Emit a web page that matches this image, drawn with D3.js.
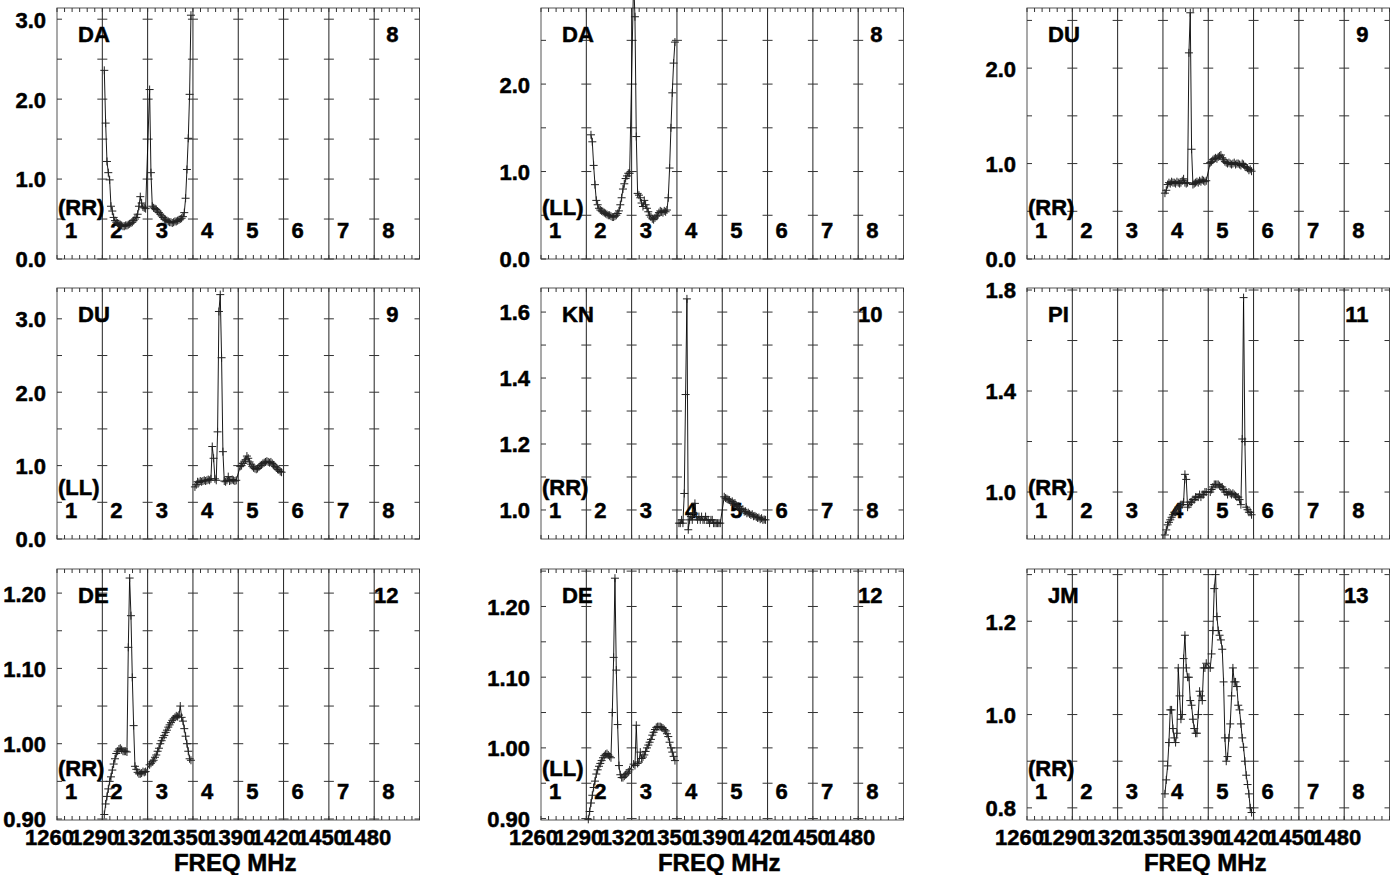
<!DOCTYPE html>
<html><head><meta charset="utf-8">
<script src="https://cdn.jsdelivr.net/npm/d3@7"></script>
<style>
body{margin:0;background:#fff}
svg{display:block}
text{font-family:"Liberation Sans",Arial,Helvetica,sans-serif;font-weight:bold;font-size:22px;fill:#000;stroke:#000;stroke-width:0.5px}
.xtitle{font-size:24px}
</style>
</head><body>
<svg id="chart" width="1399" height="875"></svg>
<script>
// ---------- categories / labels ----------
const freqLabels = ["1260","1290","1320","1350","1390","1420","1450","1480"];
const ifNumbers = ["1","2","3","4","5","6","7","8"];
const antennas = ["DA","DA","DU","DU","KN","PI","DE","DE","JM"];
const antennaNumbers = ["8","8","9","9","10","11","12","12","13"];
const polarizations = ["(RR)","(LL)","(RR)","(LL)","(RR)","(RR)","(RR)","(LL)","(RR)"];
const xAxisTitle = "FREQ MHz";

// ---------- y axis ranges and ticks ----------
const yDomains = [[0,3.14],[0,2.87],[0,2.63],[0,3.42],[0.912,1.673],[0.814,1.808],[0.8987,1.232],[0.898,1.253],[0.774,1.312]];
const yTickSteps = [0.5,0.5,0.5,0.5,0.1,0.2,0.05,0.05,0.1];
const yLabelValues = [
  [0,1,2,3],[0,1,2],[0,1,2],[0,1,2,3],
  [1.0,1.2,1.4,1.6],[1.0,1.4,1.8],
  [0.9,1.0,1.1,1.2],[0.9,1.0,1.1,1.2],[0.8,1.0,1.2]
];
const yLabelDecimals = [1,1,1,1,1,1,2,2,1];

// ---------- series (amplitude per channel, channels 2..33 of each IF) ----------
const daRR_IF2 = [2.36,1.70,1.22,1.08,0.99,0.66,0.60,0.52,0.48,0.46,0.45,0.44,0.43,0.42,0.41,0.41,0.42,0.42,0.43,0.44,0.45,0.46,0.48,0.50,0.52,0.56,0.66,0.78,0.70,0.65,0.64,0.63];
const daRR_IF3 = [2.12,1.08,0.66,0.64,0.63,0.62,0.60,0.58,0.56,0.54,0.52,0.50,0.49,0.48,0.47,0.46,0.46,0.45,0.46,0.47,0.47,0.48,0.49,0.50,0.51,0.53,0.58,0.76,1.12,1.51,2.06,3.05];
const daLL_IF2 = [null,null,1.42,1.34,1.07,0.85,0.67,0.62,0.58,0.56,0.55,0.54,0.53,0.52,0.51,0.50,0.50,0.49,0.48,0.48,0.49,0.50,0.52,0.55,0.62,0.70,0.80,0.86,0.92,0.95,0.98,0.98];
const daLL_IF3 = [3.20,2.77,1.40,0.75,0.73,0.70,0.64,0.60,0.67,0.62,0.58,0.54,0.50,0.48,0.46,0.45,0.47,0.49,0.50,0.53,0.55,0.54,0.53,0.55,0.54,0.56,0.70,1.04,1.50,1.90,2.24,2.48];
const duRR_IF4 = [0.69,0.72,0.78,0.80,0.79,0.81,0.80,0.80,0.79,0.81,0.80,0.79,0.80,0.82,0.84,0.80,0.79,0.80,2.16,2.58,1.15,0.78,0.79,0.80,0.81,0.80,0.82,0.81,0.83,0.82,0.81,0.82];
const duRR_IF5 = [1.01,1.02,1.04,1.05,1.06,1.05,1.07,1.08,1.09,1.06,1.04,1.02,1.01,1.00,1.01,1.00,0.99,1.00,1.01,0.99,1.00,1.00,0.99,0.98,1.00,0.99,0.97,0.96,0.95,0.93,0.94,0.92];
const duLL_IF4 = [0.71,0.74,0.78,0.77,0.79,0.78,0.79,0.80,0.79,0.80,0.81,0.80,0.82,1.26,1.10,0.82,0.80,1.46,3.10,3.33,2.47,1.19,0.79,0.78,0.80,0.85,0.79,0.80,0.81,0.80,0.79,0.80];
const duLL_IF5 = [0.99,1.00,1.03,1.06,1.08,1.13,1.10,1.05,1.02,0.99,0.97,0.96,0.95,0.96,0.98,1.00,1.01,1.03,1.04,1.05,1.06,1.05,1.04,1.05,1.03,1.01,0.99,0.97,0.95,0.94,0.92,0.91];
const knRR_IF4 = [0.96,0.96,0.97,0.96,1.05,1.35,1.64,0.94,0.97,0.98,0.97,0.99,1.02,0.98,0.97,0.98,0.97,0.98,0.97,0.97,0.98,0.97,0.97,0.96,0.97,0.97,0.96,0.96,0.96,0.96,0.96,0.96];
const knRR_IF5 = [1.040,1.036,1.034,1.031,1.030,1.024,1.026,1.019,1.021,1.014,1.010,1.011,1.004,1.000,1.002,0.995,0.996,0.990,0.992,0.988,0.985,0.987,0.981,0.982,0.979,0.976,0.977,0.972,0.975,0.970,0.971,0.970];
const piRR_IF4 = [0.83,0.85,0.87,0.88,0.89,0.90,0.91,0.92,0.92,0.93,0.94,0.94,0.95,0.95,0.96,1.07,1.05,0.94,0.95,0.96,0.96,0.97,0.97,0.98,0.98,0.98,0.99,0.98,0.99,0.99,1.00,1.00];
const piRR_IF5 = [1.00,1.01,1.02,1.03,1.03,1.03,1.03,1.025,1.02,1.02,1.01,1.00,1.00,0.99,1.00,0.995,0.99,0.995,0.99,0.985,0.98,0.98,0.97,0.95,1.21,1.77,1.20,0.94,0.93,0.92,0.92,0.91];
const deRR_IF2 = [0.906,0.920,0.930,0.940,0.950,0.956,0.965,0.973,0.980,0.987,0.990,0.993,0.994,0.992,0.990,0.990,0.990,0.989,1.128,1.220,1.170,1.088,1.024,0.970,0.966,0.962,0.960,0.960,0.961,0.963,0.962,0.963];
const deRR_IF3 = [0.972,0.974,0.976,0.978,0.982,0.985,0.990,0.994,1.000,1.004,1.008,1.011,1.015,1.018,1.022,1.025,1.028,1.031,1.033,1.035,1.037,1.036,1.038,1.050,1.035,1.030,1.020,1.010,1.000,0.990,0.980,0.978];
const deLL_IF2 = [0.899,0.910,0.922,0.933,0.944,0.953,0.963,0.969,0.974,0.978,0.982,0.986,0.989,0.991,0.992,0.990,0.988,0.986,1.050,1.128,1.240,1.110,1.033,0.975,0.962,0.958,0.958,0.960,0.962,0.964,0.966,0.969];
const deLL_IF3 = [0.977,0.975,1.032,0.978,0.980,0.994,0.985,0.987,0.990,0.995,1.000,1.004,1.008,1.012,1.018,1.022,1.026,1.029,1.030,1.030,1.030,1.029,1.028,1.026,1.024,1.020,1.016,1.008,1.000,0.994,0.988,0.982];
const jmRR_IF4 = [0.83,0.86,0.89,0.94,1.01,1.01,0.97,0.95,0.94,0.96,1.10,1.04,0.99,1.00,1.12,1.17,1.10,1.08,1.08,1.03,1.02,0.99,0.97,0.96,0.96,1.00,1.05,1.04,1.03,1.10,1.10,1.11];
const jmRR_IF5 = [1.10,1.13,1.18,1.27,1.30,1.21,1.18,1.17,1.16,1.14,1.07,0.95,0.90,0.91,0.95,0.98,1.04,1.10,1.07,1.07,1.06,1.02,1.01,0.98,0.95,0.93,0.90,0.87,0.85,0.83,0.80,0.79];

// which IF (1-based) each series belongs to
const panelSeries = [
  [[2,daRR_IF2],[3,daRR_IF3]],
  [[2,daLL_IF2],[3,daLL_IF3]],
  [[4,duRR_IF4],[5,duRR_IF5]],
  [[4,duLL_IF4],[5,duLL_IF5]],
  [[4,knRR_IF4],[5,knRR_IF5]],
  [[4,piRR_IF4],[5,piRR_IF5]],
  [[2,deRR_IF2],[3,deRR_IF3]],
  [[2,deLL_IF2],[3,deLL_IF3]],
  [[4,jmRR_IF4],[5,jmRR_IF5]]
];

// ---------- layout ----------
const CH = 34;            // channels per IF (first/last flagged)
const NIF = 8;
const colLeft = [57, 541, 1027];
const rowTop = [8, 288, 569];
const PW = 362.5, PH = 251;

const svg = d3.select("#chart");

panelSeries.forEach((series, p) => {
  const r = Math.floor(p / 3), c = p % 3;
  const L = colLeft[c], T = rowTop[r], R = L + PW, B = T + PH;
  const x = d3.scaleLinear().domain([0, NIF * CH]).range([L, R]);
  const y = d3.scaleLinear().domain(yDomains[p]).range([B, T]);
  const g = svg.append("g");

  // frame
  g.append("rect").attr("x", L).attr("y", T).attr("width", PW).attr("height", PH)
    .attr("fill", "none").attr("stroke", "#555").attr("stroke-width", 1);

  // IF separators
  const bounds = d3.range(1, NIF).map(k => k * CH);
  g.selectAll(".sep").data(bounds).join("line")
    .attr("x1", d => x(d)).attr("x2", d => x(d)).attr("y1", T).attr("y2", B)
    .attr("stroke", "#222").attr("stroke-width", 1);

  // top / bottom minor ticks (6 per IF)
  const xt = d3.range(0, NIF * 6 + 1).map(k => k * CH / 6);
  g.selectAll(".tb").data(xt).join("line")
    .attr("x1", d => x(d)).attr("x2", d => x(d)).attr("y1", B).attr("y2", B - 4)
    .attr("stroke", "#333").attr("stroke-width", 1);
  g.selectAll(".tt").data(xt).join("line")
    .attr("x1", d => x(d)).attr("x2", d => x(d)).attr("y1", T).attr("y2", T + 4)
    .attr("stroke", "#333").attr("stroke-width", 1);

  // y ticks: across each separator and inward at frame edges
  const [y0, y1] = yDomains[p];
  const step = yTickSteps[p];
  const yt = d3.range(Math.ceil(y0 / step - 1e-6), Math.floor(y1 / step + 1e-6) + 1).map(k => +(k * step).toFixed(4));
  yt.forEach(v => {
    const yy = y(v);
    g.append("line").attr("x1", L).attr("x2", L + 5).attr("y1", yy).attr("y2", yy).attr("stroke", "#333");
    g.append("line").attr("x1", R - 5).attr("x2", R).attr("y1", yy).attr("y2", yy).attr("stroke", "#333");
    bounds.forEach(b => {
      g.append("line").attr("x1", x(b) - 5).attr("x2", x(b) + 5).attr("y1", yy).attr("y2", yy).attr("stroke", "#333");
    });
  });

  // y labels
  const ya = d3.axisLeft(y).tickValues(yLabelValues[p])
    .tickFormat(d3.format("." + yLabelDecimals[p] + "f")).tickSize(0).tickPadding(11);
  const yg = g.append("g").attr("transform", `translate(${L},0)`).call(ya);
  yg.select(".domain").remove();
  yg.selectAll("text").attr("dy", "0.36em");

  // x labels (bottom row only)
  if (r === 2) {
    const xa = d3.axisBottom(x).tickValues(d3.range(0, NIF).map(k => k * CH))
      .tickFormat((d, i) => freqLabels[i]).tickSize(0).tickPadding(9);
    const xg = g.append("g").attr("transform", `translate(0,${B})`).call(xa);
    xg.select(".domain").remove();
    xg.selectAll("text").attr("x", -8);
    g.append("text").attr("class", "xtitle").attr("x", (L + R) / 2 - 3).attr("y", 871)
      .attr("text-anchor", "middle").text(xAxisTitle);
  }

  // in-panel labels
  g.append("text").attr("x", L + 21).attr("y", T + 34).text(antennas[p]);
  g.append("text").attr("x", R - 21).attr("y", T + 34).attr("text-anchor", "end").text(antennaNumbers[p]);
  g.append("text").attr("x", L + 1).attr("y", B - 44).text(polarizations[p]);
  ifNumbers.forEach((s, k) => {
    g.append("text").attr("x", x(k * CH) + 8).attr("y", B - 21).text(s);
  });

  // data
  const pts = [];
  series.forEach(([ifn, vals]) => {
    vals.forEach((v, i) => pts.push({ ch: (ifn - 1) * CH + 1 + i + 0.5, v: v }));
  });
  const line = d3.line().defined(d => d.v != null).x(d => x(d.ch)).y(d => y(d.v));
  g.append("path").datum(pts).attr("d", line).attr("fill", "none")
    .attr("stroke", "#000").attr("stroke-width", 0.9);
  g.selectAll(".mk").data(pts.filter(d => d.v != null)).join("path")
    .attr("transform", d => `translate(${x(d.ch)},${y(d.v)})`)
    .attr("d", "M-4,0H4M0,-4V4").attr("stroke", "#222").attr("stroke-width", 1).attr("fill", "none");
});
</script>
</body></html>
